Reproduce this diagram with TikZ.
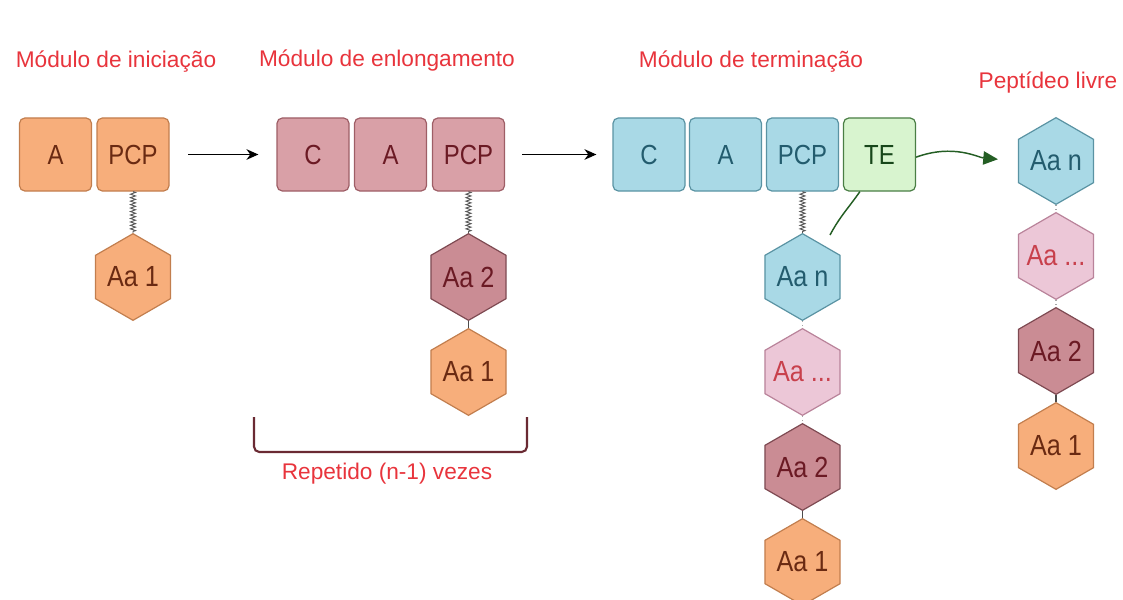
\documentclass[tikz,border=0pt]{standalone}
\usepackage{graphicx}
\usepackage{fontspec}
\setmainfont{Liberation Sans}
\usetikzlibrary{shapes.geometric,decorations.pathmorphing,arrows.meta}
\definecolor{orF}{HTML}{F7AE7B}
\definecolor{orD}{HTML}{C27E4E}
\definecolor{orT}{HTML}{6A2A12}
\definecolor{maF}{HTML}{D9A0A7}
\definecolor{maD}{HTML}{9E5E66}
\definecolor{maT}{HTML}{6B1A24}
\definecolor{mhF}{HTML}{CA8C94}
\definecolor{mhD}{HTML}{7E4A52}
\definecolor{blF}{HTML}{A9D9E6}
\definecolor{blD}{HTML}{5A93A3}
\definecolor{blT}{HTML}{235C6E}
\definecolor{grF}{HTML}{D8F4CF}
\definecolor{grD}{HTML}{4A7E45}
\definecolor{grT}{HTML}{17461A}
\definecolor{pkF}{HTML}{ECC7D7}
\definecolor{pkD}{HTML}{B9839A}
\definecolor{pkT}{HTML}{C8404C}
\definecolor{lab}{HTML}{E8343C}
\definecolor{brk}{HTML}{6A2A33}
\definecolor{arrG}{HTML}{245E24}
\newcommand\hxt[1]{\makebox[0pt]{\scalebox{0.97}[1.12]{#1}}}
\begin{document}
\begin{tikzpicture}[x=0.75pt,y=-0.75pt,
  box/.style={draw, rectangle, rounded corners=4pt, minimum width=54pt, minimum height=54.75pt, line width=0.9pt, inner sep=0pt, font=\fontsize{18.5}{20}\selectfont},
  hexa/.style={regular polygon, regular polygon sides=6, shape border rotate=30, draw, minimum size=65pt, inner sep=0pt, line width=0.9pt, font=\fontsize{19.5}{21}\selectfont},
  orS/.style={fill=orF, draw=orD, text=orT},
  maS/.style={fill=maF, draw=maD, text=maT},
  mhS/.style={fill=mhF, draw=mhD, text=maT},
  blS/.style={fill=blF, draw=blD, text=blT},
  grS/.style={fill=grF, draw=grD, text=grT},
  pkS/.style={fill=pkF, draw=pkD, text=pkT},
  label/.style={text=lab, font=\fontsize{17}{19}\selectfont},
  spring/.style={draw=black!65, line width=0.7pt, decorate, decoration={zigzag, segment length=2.6pt, amplitude=1.9pt}},
  solidlink/.style={draw=black!70, line width=0.9pt},
  dotlink/.style={draw=black!35, line width=0.9pt, dotted},
  arr/.style={draw=black, line width=0.9pt, -{Stealth[length=9pt,width=8pt]}},
  garr/.style={draw=arrG, line width=1.1pt},
]
\useasboundingbox (0,0) rectangle (1123,599);
\clip (0,0) rectangle (1123,599);

% labels
\node[label] (l1) at (116,62) {Módulo de iniciação};
\node[label] (l2) at (387,61) {Módulo de enlongamento};
\node[label] (l3) at (751,62) {Módulo de terminação};
\node[label] (l4) at (1048,83) {Peptídeo livre};
\node[label] (l5) at (387,474) {Repetido (n-1) vezes};

% module 1
\node[box,orS] (a1) at (55.5,154.5) {\hxt{A}};
\node[box,orS] (p1) at (133,154.5) {\hxt{PCP}};
\node[hexa,orS] (h11) at (133,277) {\hxt{Aa 1}};
\draw[spring] (p1.south) -- (h11.north);

% module 2
\node[box,maS] (c2) at (313,154.5) {\hxt{C}};
\node[box,maS] (a2) at (390.5,154.5) {\hxt{A}};
\node[box,maS] (p2) at (468.5,154.5) {\hxt{PCP}};
\node[hexa,mhS] (h22) at (468.5,277) {\hxt{Aa 2}};
\node[hexa,orS] (h21) at (468.5,372) {\hxt{Aa 1}};
\draw[spring] (p2.south) -- (h22.north);
\draw[solidlink] (h22.south) -- (h21.north);

% bracket
\coordinate (b1) at (254,417);
\coordinate (b2) at (527,417);
\draw[brk, line width=1.6pt, rounded corners=4pt] (b1) -- (254,452) -- (527,452) -- (b2);

% module 3
\node[box,blS] (c3) at (649,154.5) {\hxt{C}};
\node[box,blS] (a3) at (725.5,154.5) {\hxt{A}};
\node[box,blS] (p3) at (802.5,154.5) {\hxt{PCP}};
\node[box,grS] (te) at (879.5,154.5) {\hxt{TE}};
\node[hexa,blS] (h3n) at (802.5,277) {\hxt{Aa n}};
\node[hexa,pkS] (h3d) at (802.5,372) {\hxt{Aa ...}};
\node[hexa,mhS] (h32) at (802.5,467) {\hxt{Aa 2}};
\node[hexa,orS] (h31) at (802.5,562) {\hxt{Aa 1}};
\draw[spring] (p3.south) -- (h3n.north);
\draw[dotlink] (h3n.south) -- (h3d.north);
\draw[dotlink] (h3d.south) -- (h32.north);
\draw[solidlink] (h32.south) -- (h31.north);

% free peptide
\node[hexa,blS] (fn) at (1056,161) {\hxt{Aa n}};
\node[hexa,pkS] (fd) at (1056,256) {\hxt{Aa ...}};
\node[hexa,mhS] (f2) at (1056,351) {\hxt{Aa 2}};
\node[hexa,orS] (f1) at (1056,446) {\hxt{Aa 1}};
\draw[dotlink] (fn.south) -- (fd.north);
\draw[dotlink] (fd.south) -- (f2.north);
\draw[solidlink] (f2.south) -- (f1.north);

% arrows
\draw[arr, shorten <=14pt, shorten >=13.5pt] (p1.east) -- (c2.west);
\draw[arr, shorten <=13pt, shorten >=12pt] (p2.east) -- (c3.west);

% TE curves
\coordinate (g1) at (830,235);
\draw[garr] (g1) to[out=62, in=235] ([xshift=12.75pt]te.south west);
\draw[garr, -{Triangle[length=11pt,width=10pt]}, shorten >=15pt] ([yshift=-2pt]te.east) to[out=20, in=175] (fn.west);
\end{tikzpicture}
\end{document}
